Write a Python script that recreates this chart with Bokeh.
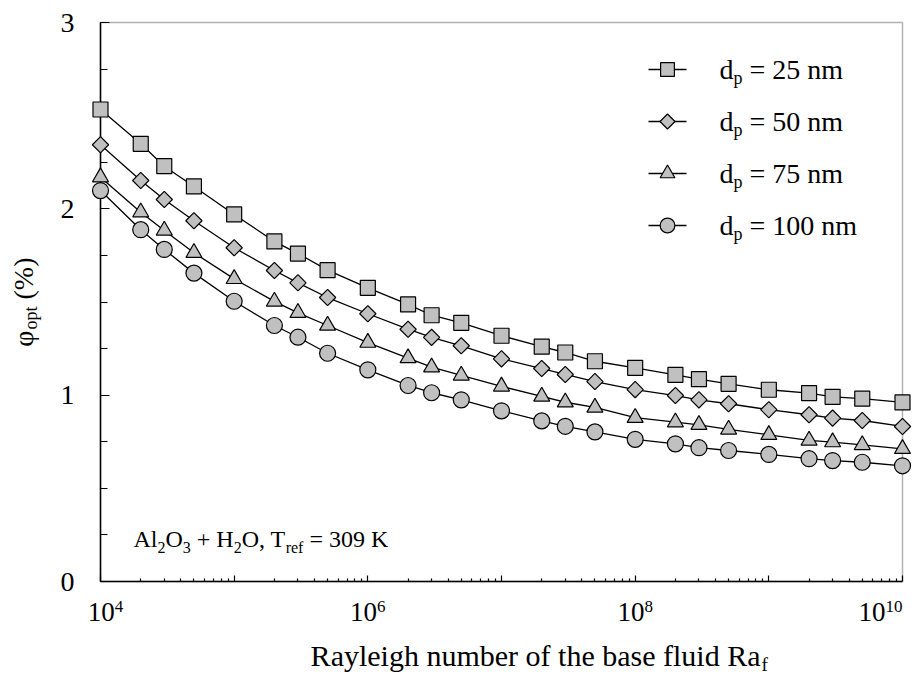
import math
from bokeh.plotting import figure
from bokeh.models import (Range1d, LinearScale, FixedTicker, SingleIntervalTicker, Label,
                          BoxAnnotation, CustomJSTickFormatter)
from bokeh.embed import file_html
from bokeh.resources import INLINE

# ---------------- data ----------------
ra = [1e4, 2e4, 3e4, 5e4, 1e5, 2e5, 3e5, 5e5, 1e6, 2e6, 3e6, 5e6,
      1e7, 2e7, 3e7, 5e7, 1e8, 2e8, 3e8, 5e8, 1e9, 2e9, 3e9, 5e9, 1e10]
phi_25 = [2.533, 2.349, 2.229, 2.120, 1.970, 1.825, 1.760, 1.671, 1.576, 1.487, 1.429, 1.388,
          1.319, 1.260, 1.229, 1.182, 1.147, 1.109, 1.086, 1.061, 1.029, 1.011, 0.991, 0.981, 0.961]
phi_50 = [2.344, 2.152, 2.050, 1.936, 1.791, 1.669, 1.603, 1.524, 1.437, 1.354, 1.310, 1.265,
          1.195, 1.143, 1.111, 1.073, 1.030, 0.998, 0.975, 0.954, 0.922, 0.895, 0.877, 0.864, 0.832]
phi_75 = [2.170, 1.982, 1.884, 1.764, 1.624, 1.503, 1.442, 1.374, 1.282, 1.199, 1.150, 1.106,
          1.047, 0.993, 0.962, 0.934, 0.879, 0.855, 0.841, 0.816, 0.787, 0.757, 0.748, 0.733, 0.712]
phi_100 = [2.098, 1.888, 1.782, 1.655, 1.504, 1.374, 1.311, 1.225, 1.136, 1.052, 1.013, 0.975,
           0.916, 0.862, 0.833, 0.803, 0.763, 0.739, 0.718, 0.703, 0.682, 0.659, 0.649, 0.640, 0.621]
series = [phi_25, phi_50, phi_75, phi_100]
diameters = ["25", "50", "75", "100"]
x_decades = [4, 5, 6, 7, 8, 9, 10]
x_labeled = [4, 6, 8, 10]
y_ticks = [0, 1, 2, 3]

# ---------------- layout / style ----------------
W, H = 912, 675
FL, FT, FR, FB = 100, 22, 902, 581          # plot-area box in canvas px
DEC_PX = (FR - FL) / (x_decades[-1] - x_decades[0])
UNIT_PX = (FB - FT) / (y_ticks[-1] - y_ticks[0])
x_lo = 10 ** (x_decades[0] - FL / DEC_PX)
x_hi = 10 ** (x_decades[-1] + (W - FR) / DEC_PX)
y_lo = y_ticks[0] - (H - FB) / UNIT_PX
y_hi = y_ticks[-1] + FT / UNIT_PX

FONT = "Liberation Serif"
MID_K = 0.3375   # (ascent - descent) / 2 of the font, in em: baseline offset from "middle"
FILL = "#c0c0c0"
MARKERS = [("square", 15, 0.0), ("square", 11.5, math.pi / 4),
           ("triangle", 16, 0.0), ("circle", 16, 0.0)]
X_LABEL_SHIFT = {4: 5, 6: 0, 8: 0, 10: -22}  # edge labels pulled inside, as in the reference

p = figure(width=W, height=H, x_axis_type="log",
           x_range=Range1d(x_lo, x_hi), y_range=Range1d(y_lo, y_hi),
           output_backend="svg", toolbar_location=None, min_border=0)
p.extra_x_ranges = {"px": Range1d(0, W)}
p.extra_y_ranges = {"px": Range1d(H, 0)}
p.extra_x_scales = {"px": LinearScale()}
p.extra_y_scales = {"px": LinearScale()}

p.grid.visible = False
p.outline_line_color = None
p.background_fill_color = "white"
p.border_fill_color = "white"

# plot-area box
p.add_layout(BoxAnnotation(left=10.0 ** x_decades[0], right=10.0 ** x_decades[-1],
                           bottom=y_ticks[0], top=y_ticks[-1], fill_color=None,
                           line_color="black", line_width=1.5, level="underlay"))

# x axis (ticks only, labels drawn as text below)
xax = p.xaxis[0]
minor = [k * 10 ** d for d in x_decades[:-1] for k in range(2, 10)]
xax.ticker = FixedTicker(ticks=[10.0 ** d for d in x_decades], minor_ticks=minor)
xax.formatter = CustomJSTickFormatter(code="return ''")
xax.fixed_location = y_ticks[0]
xax.bounds = (10.0 ** x_decades[0], 10.0 ** x_decades[-1])
xax.major_tick_in = 6
xax.major_tick_out = 0
xax.minor_tick_in = 3
xax.minor_tick_out = 0

# y axis
yax = p.yaxis[0]
yax.ticker = SingleIntervalTicker(interval=1, num_minor_ticks=4)
yax.fixed_location = 10.0 ** x_decades[0]
yax.bounds = (y_ticks[0], y_ticks[-1])
yax.major_tick_in = 9
yax.major_tick_out = 0
yax.minor_tick_in = 7
yax.minor_tick_out = 0
yax.major_label_standoff = 26
yax.major_label_text_font = FONT
yax.major_label_text_font_size = "28px"
yax.major_label_text_color = "black"

for ax in (xax, yax):
    ax.level = "underlay"
    ax.axis_line_color = "black"
    ax.axis_line_width = 1.5
    ax.major_tick_line_color = "black"
    ax.minor_tick_line_color = "black"
    ax.major_tick_line_width = 1.2
    ax.minor_tick_line_width = 1.2

# ---------------- series ----------------
for vals in series:
    p.line(ra, vals, line_color="black", line_width=1.3)
for vals, (mk, sz, ang) in zip(series, MARKERS):
    p.scatter(ra, vals, marker=mk, size=sz, angle=ang, fill_color=FILL,
              line_color="black", line_width=1.2)

# ---------------- text helpers ----------------
TW = {"A": 722, "l": 278, "O": 722, " ": 250, "+": 564, "H": 722, ",": 250, "T": 611,
      "r": 333, "e": 444, "f": 333, "=": 564, "K": 722, "d": 500, "p": 500, "n": 500,
      "m": 778, "o": 500, "t": 278, "(": 333, ")": 333, "%": 833}


def tw(s, size):
    return sum(TW.get(c, 500) for c in s) / 1000.0 * size


def lab(text, cx, cy, size, align="left", rotated=False):
    """text whose baseline passes through canvas px (cx, cy); cy measured from the top"""
    if rotated:
        ax_, ay_ = cx - MID_K * size, cy
    else:
        ax_, ay_ = cx, cy - MID_K * size
    p.add_layout(Label(x=ax_, y=H - ay_, x_units="screen", y_units="screen", text=text,
                       text_font=FONT, text_font_size=f"{size}px", text_color="black",
                       text_align=align, text_baseline="middle",
                       angle=math.pi / 2 if rotated else 0.0))


def chain(pieces, x0, base, size, sub_size, sub_drop):
    x = x0
    for text, kind in pieces:
        if kind == "gap":
            x += tw(text, size)
            continue
        if kind == "s":
            lab(text, x, base + sub_drop, sub_size)
            x += tw(text, sub_size)
        else:
            lab(text, x, base, size)
            x += tw(text, size)


# ---------------- x tick labels 10^n ----------------
TICK_SIZE, EXP_SIZE = 27, 17
for d in x_labeled:
    centre = FL + (d - x_decades[0]) * DEC_PX + X_LABEL_SHIFT[d]
    w_base, w_exp = tw("10", TICK_SIZE), tw(str(d), EXP_SIZE)
    join = centre + (w_base - w_exp) / 2
    lab("10", join, 621, TICK_SIZE, align="right")
    lab(str(d), join, 612, EXP_SIZE)

# ---------------- legend ----------------
LEG_X0, LEG_LEN, LEG_TX = 648, 38, 719
LEG_Y0, LEG_DY = 69, 52
for i, (dia, (mk, sz, ang)) in enumerate(zip(diameters, MARKERS)):
    ry = LEG_Y0 + i * LEG_DY
    p.line([LEG_X0, LEG_X0 + LEG_LEN], [ry, ry], line_color="black", line_width=1.3,
           x_range_name="px", y_range_name="px")
    p.scatter([LEG_X0 + LEG_LEN / 2], [ry], marker=mk, size=sz * 0.92, angle=ang,
              fill_color=FILL, line_color="black", line_width=1.2,
              x_range_name="px", y_range_name="px")
    chain([("d", "n"), ("p", "s"), (" ", "gap"), (f"= {dia} nm", "n")],
          LEG_TX, ry + 9, 28, 18, 6)

# ---------------- annotation ----------------
chain([("Al", "n"), ("2", "s"), ("O", "n"), ("3", "s"), (" ", "gap"), ("+ H", "n"),
       ("2", "s"), ("O, T", "n"), ("ref", "s"), (" ", "gap"), ("= 309 K", "n")],
      133, 547, 24, 16, 5)

# ---------------- axis titles ----------------
XL_END, XL_BASE = 760, 665
lab("Rayleigh number of the base fluid Ra", XL_END, XL_BASE, 30, align="right")
lab("f", XL_END + 1, XL_BASE + 5, 19)

YL_X, YL_Y = 32, 330
lab("\u03c6", YL_X, YL_Y, 28, align="right", rotated=True)
lab("opt", YL_X + 5, YL_Y - 1, 18, rotated=True)
lab("(%)", YL_X, YL_Y - 1 - tw("opt", 18) - tw(" ", 28), 28, rotated=True)

open("out.html", "w").write(file_html(p, INLINE))
